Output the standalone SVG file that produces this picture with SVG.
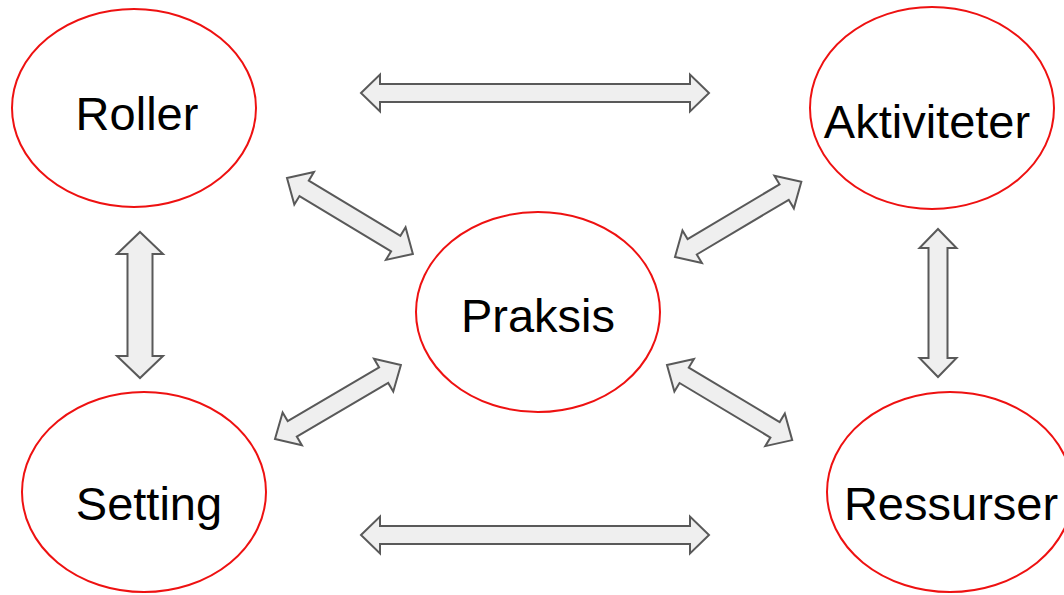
<svg xmlns="http://www.w3.org/2000/svg" width="1064" height="595" viewBox="0 0 1064 595">
<style>
.node ellipse{fill:#ffffff;stroke:#ee1111;stroke-width:2}
.node text{font-family:"Liberation Sans",Arial,sans-serif;font-size:47px;fill:#000;text-anchor:middle}
.conn path{fill:#efefef;stroke:#595959;stroke-width:2;stroke-linejoin:miter}
</style>
<rect width="1064" height="595" fill="#ffffff"/>
<g id="connectors" class="conn">
<path d="M361,93 L380,74.5 L380,84 L690,84 L690,74.5 L709,93 L690,111.5 L690,102 L380,102 L380,111.5 Z"/>
<path d="M361,535 L380,516.5 L380,526 L690,526 L690,516.5 L709,535 L690,553.5 L690,544 L380,544 L380,553.5 Z"/>
<path d="M140,232 L163,254 L152.5,254 L152.5,356 L163,356 L140,378 L117,356 L127.5,356 L127.5,254 L117,254 Z"/>
<path d="M938,229 L956.5,248 L947.5,248 L947.5,358 L956.5,358 L938,377 L919.5,358 L928.5,358 L928.5,248 L919.5,248 Z"/>
<path transform="translate(287,178) rotate(31.09)" d="M0,0 L20,-19 L20,-9 L127,-9 L127,-19 L147,0 L127,19 L127,9 L20,9 L20,19 Z"/>
<path transform="translate(675,257) rotate(-30.76)" d="M0,0 L20,-19 L20,-9 L127,-9 L127,-19 L147,0 L127,19 L127,9 L20,9 L20,19 Z"/>
<path transform="translate(275,439) rotate(-30.43)" d="M0,0 L20,-19 L20,-9 L126,-9 L126,-19 L146,0 L126,19 L126,9 L20,9 L20,19 Z"/>
<path transform="translate(667,365) rotate(30.96)" d="M0,0 L20,-19 L20,-9 L126,-9 L126,-19 L146,0 L126,19 L126,9 L20,9 L20,19 Z"/>
</g>
<g id="roller" class="node">
<ellipse cx="134" cy="108" rx="122" ry="99"/>
<text x="137" y="130">Roller</text>
</g>
<g id="aktiviteter" class="node">
<ellipse cx="932" cy="108" rx="122" ry="101"/>
<text x="927" y="138">Aktiviteter</text>
</g>
<g id="praksis" class="node">
<ellipse cx="538" cy="312" rx="122" ry="100"/>
<text x="538" y="332">Praksis</text>
</g>
<g id="setting" class="node">
<ellipse cx="144" cy="492" rx="122" ry="100"/>
<text x="149" y="520">Setting</text>
</g>
<g id="ressurser" class="node">
<ellipse cx="950" cy="492" rx="123" ry="100"/>
<text x="951" y="520">Ressurser</text>
</g>
</svg>
